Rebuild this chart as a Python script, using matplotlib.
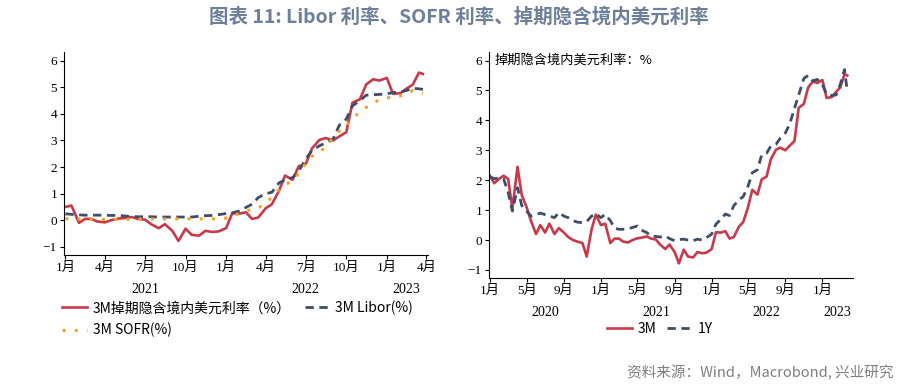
import matplotlib
matplotlib.use('Agg')
import matplotlib.pyplot as plt
import matplotlib.dates as mdates
from matplotlib.ticker import FuncFormatter
import pandas as pd

# semi-monthly observation dates (1st and 15th), plus the last print in late March 2023
dates_all = list(pd.date_range('2020-01-01', '2023-03-15', freq='SMS')) + [pd.Timestamp('2023-03-24')]
dates_left = [d for d in dates_all if d.year >= 2021]

# 3M swap implied onshore USD rate, 2020 part (right chart only)
swap3m_2020 = [2.15, 1.90, 2.05, 2.15, 2.05, 1.05, 2.45, 1.50, 1.10, 0.65, 0.20, 0.50,
               0.25, 0.55, 0.20, 0.40, 0.25, 0.10, 0.00, -0.05, -0.10, -0.55, 0.35, 0.85]
# 3M swap implied onshore USD rate, 2021 onwards (both charts)
swap3m = [0.50, 0.55, -0.10, 0.05, 0.05, -0.05, -0.08, 0.00, 0.06, 0.08, 0.12, 0.05,
          0.02, -0.15, -0.30, -0.15, -0.40, -0.78, -0.32, -0.55, -0.58, -0.40, -0.44, -0.42,
          -0.30, 0.26, 0.25, 0.30, 0.05, 0.10, 0.45, 0.60, 1.10, 1.68, 1.52, 2.03,
          2.12, 2.70, 3.02, 3.09, 3.00, 3.15, 3.31, 4.42, 4.55, 5.10, 5.30, 5.25,
          5.35, 4.75, 4.78, 4.95, 5.10, 5.55, 5.50]
libor3m = [0.24, 0.22, 0.20, 0.19, 0.19, 0.19, 0.19, 0.18, 0.18, 0.16, 0.14, 0.13,
           0.13, 0.13, 0.12, 0.12, 0.12, 0.12, 0.12, 0.12, 0.15, 0.17, 0.18, 0.21,
           0.25, 0.28, 0.35, 0.48, 0.60, 0.85, 1.00, 1.05, 1.40, 1.52, 1.60, 1.85,
           2.30, 2.62, 2.80, 2.90, 3.05, 3.57, 3.80, 4.30, 4.50, 4.70, 4.72, 4.73,
           4.75, 4.80, 4.82, 4.88, 4.96, 4.94, 4.92]
sofr3m = [0.06, 0.05, 0.04, 0.04, 0.03, 0.03, 0.03, 0.03, 0.03, 0.03, 0.04, 0.04,
          0.05, 0.05, 0.05, 0.05, 0.05, 0.05, 0.05, 0.05, 0.05, 0.05, 0.05, 0.06,
          0.08, 0.15, 0.26, 0.35, 0.40, 0.45, 0.67, 0.85, 1.15, 1.32, 1.50, 1.75,
          2.14, 2.40, 2.58, 2.74, 3.10, 3.35, 3.55, 3.82, 4.08, 4.24, 4.42, 4.52,
          4.60, 4.63, 4.68, 4.74, 4.88, 4.82, 4.77]
swap1y = [2.12, 2.05, 2.08, 2.05, 1.60, 0.97, 1.75, 1.15, 0.97, 0.80, 0.85, 0.90,
          0.85, 0.80, 0.75, 0.92, 0.80, 0.75, 0.65, 0.60, 0.58, 0.62, 0.80, 0.88,
          0.75, 0.86, 0.65, 0.40, 0.36, 0.36, 0.38, 0.42, 0.47, 0.33, 0.25, 0.13,
          0.12, 0.10, 0.14, 0.05, -0.02, 0.02, 0.03, 0.00, -0.02, 0.03, 0.00, 0.08,
          0.20, 0.53, 0.70, 0.87, 0.82, 1.15, 1.35, 1.45, 1.80, 2.25, 2.35, 2.85,
          2.90, 3.14, 3.20, 3.40, 3.58, 3.87, 4.40, 4.85, 5.40, 5.50, 5.32, 5.37,
          5.20, 4.88, 4.83, 4.85, 5.20, 5.70, 4.98]

years_left = {'2021': '2021-07-01', '2022': '2022-07-01', '2023': '2023-02-15'}
years_right = {'2020': '2020-07-01', '2021': '2021-07-01', '2022': '2022-07-01', '2023': '2023-02-20'}

RED = '#C9394A'
NAVY = '#3F4D6B'
ORANGE = '#F5A31F'
CJK = ['Noto Sans CJK SC', 'DejaVu Sans']

plt.rcParams['font.family'] = ['Liberation Serif', 'Noto Sans CJK SC', 'DejaVu Sans']
plt.rcParams['font.size'] = 10

fig = plt.figure(figsize=(9.18, 3.9), dpi=100)
ax1 = fig.add_axes([0.0697, 0.346, 0.3963, 0.521])
ax2 = fig.add_axes([0.5327, 0.287, 0.3965, 0.580])

month_fmt = FuncFormatter(lambda x, pos: f"{mdates.num2date(x).month}月")


def style_axis(ax, months, years, ylim, xlim):
    ax.set_ylim(*ylim)
    ax.set_xlim(pd.Timestamp(xlim[0]), pd.Timestamp(xlim[1]))
    ax.set_yticks(range(-1, 7))
    ax.xaxis.set_major_locator(mdates.MonthLocator(bymonth=months))
    ax.xaxis.set_major_formatter(month_fmt)
    for s in ['top', 'right']:
        ax.spines[s].set_visible(False)
    ax.tick_params(direction='out', length=3, width=0.8, labelsize=9.5, pad=2)
    for lbl, d in years.items():
        ax.annotate(lbl, xy=(pd.Timestamp(d), 0), xycoords=('data', 'axes fraction'),
                    xytext=(0, -25), textcoords='offset points',
                    ha='center', va='center', fontsize=10)


# left chart
l1, = ax1.plot(dates_left, swap3m, color=RED, lw=1.9, label='3M掉期隐含境内美元利率（%）')
l2, = ax1.plot(dates_left, libor3m, color=NAVY, lw=2.0, dashes=(3, 2), label='3M Libor(%)')
l3, = ax1.plot(dates_left, sofr3m, color=ORANGE, lw=2.2, linestyle=(0, (1, 3)), label='3M SOFR(%)')
style_axis(ax1, [1, 4, 7, 10], years_left, (-1.31, 6.33), ('2020-12-29', '2023-04-04'))
fig.legend([l1, l3, l2], [l1.get_label(), l3.get_label(), l2.get_label()],
           loc='upper left', bbox_to_anchor=(0.060, 0.247), ncol=2, frameon=False,
           prop={'family': CJK, 'size': 10}, handlelength=1.8, handletextpad=0.4,
           columnspacing=1.0, labelspacing=0.55, borderpad=0)

# right chart
r1, = ax2.plot(dates_all, swap3m_2020 + swap3m, color=RED, lw=1.9, label='3M')
r2, = ax2.plot(dates_all, swap1y, color=NAVY, lw=2.0, dashes=(3, 2), label='1Y')
style_axis(ax2, [1, 5, 9], years_right, (-1.27, 6.29), ('2019-12-29', '2023-04-12'))
ax2.text(0.016, 0.965, '掉期隐含境内美元利率：%', transform=ax2.transAxes,
         ha='left', va='center', family=CJK, fontsize=9.5)
fig.legend([r1, r2], ['3M', '1Y'], loc='center', bbox_to_anchor=(0.719, 0.156), ncol=2,
           frameon=False, prop={'family': CJK, 'size': 10}, handlelength=1.8,
           handletextpad=0.4, columnspacing=0.8, borderpad=0)

fig.text(0.5, 0.956, '图表 11: Libor 利率、SOFR 利率、掉期隐含境内美元利率',
         ha='center', va='center', family=CJK, fontsize=14, fontweight='bold', color='#6D7F9B')
fig.text(0.973, 0.044, '资料来源：Wind，Macrobond, 兴业研究', ha='right', va='center',
         family=CJK, fontsize=10.5, color='#7F7F7F')

fig.savefig('out.png', dpi=100)
